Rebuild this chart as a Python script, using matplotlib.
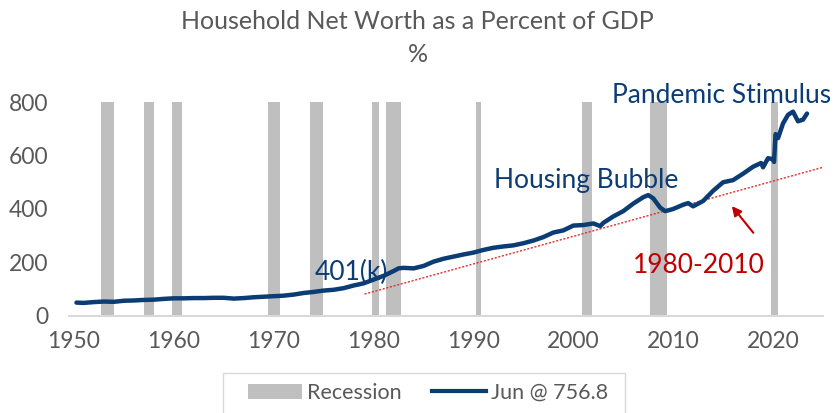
import matplotlib
matplotlib.use("Agg")
import matplotlib.pyplot as plt
from matplotlib.patches import Patch, Rectangle
from matplotlib.lines import Line2D

plt.rcParams['font.family'] = ['Lato', 'DejaVu Sans']

years = [1950.25, 1951, 1952, 1953, 1954, 1955, 1956, 1957, 1958, 1959, 1960, 1961, 1962, 1963,
         1964, 1965, 1966, 1967, 1968, 1969, 1970, 1971, 1972, 1973, 1974, 1975, 1976, 1977,
         1978, 1979, 1980, 1981, 1982, 1982.5, 1983, 1984, 1985, 1986, 1987, 1988, 1989, 1990,
         1991, 1992, 1993, 1994, 1995, 1996, 1997, 1998, 1999, 2000, 2001, 2002, 2002.7, 2003,
         2004, 2005, 2006, 2007, 2007.5, 2008, 2008.7, 2009.2, 2010, 2011, 2011.5, 2012, 2013,
         2014, 2015, 2016, 2017, 2018, 2018.8, 2019, 2019.5, 2020.0, 2020.1, 2020.25, 2020.5,
         2021, 2021.5, 2022, 2022.5, 2023, 2023.4]
values = [50, 49, 52, 54, 53, 57, 58, 60, 61, 64, 66, 66, 67, 67,
          68, 68, 65, 67, 70, 72, 74, 76, 80, 86, 90, 95, 98, 104,
          114, 122, 136, 150, 168, 178, 180, 178, 187, 203, 214, 222, 230, 237,
          247, 255, 260, 264, 272, 282, 295, 312, 320, 338, 340, 346, 336, 348,
          372, 392, 420, 444, 452, 440, 405, 392, 400, 416, 422, 410, 430,
          468, 500, 508, 532, 558, 572, 556, 590, 586, 576, 680, 665,
          720, 752, 764, 728, 734, 756.8]

rec_start = [1952.7, 1957.0, 1959.8, 1969.4, 1973.6, 1979.8, 1981.2, 1990.3, 2000.9, 2007.7, 2019.8]
rec_end = [1954.0, 1958.0, 1960.8, 1970.6, 1974.9, 1980.5, 1982.7, 1990.8, 2001.9, 2009.4, 2020.5]

trend_years = [1979.1, 2025.2]
trend_values = [82, 558]

arrow_tail = (2018.2, 303)
arrow_head = (2015.7, 419)

xticks = [1950, 1960, 1970, 1980, 1990, 2000, 2010, 2020]
yticks = [0, 200, 400, 600, 800]

navy = '#0b3c74'
red = '#c00000'
gray_txt = '#595959'
rec_col = '#bfbfbf'

fig = plt.figure(figsize=(8.35, 4.13), dpi=100)
ax = fig.add_axes([0.0826, 0.2349, 0.9856 - 0.0826, 0.753 - 0.2349])

for s, e in zip(rec_start, rec_end):
    ax.axvspan(s, e, ymin=0, ymax=1, color=rec_col, lw=0, zorder=1)

ax.plot(trend_years, trend_values, color='#e03030', lw=1.0, ls=(0, (1.5, 1.2)), zorder=2)
ax.plot(years, values, color=navy, lw=3.2, solid_capstyle='round', solid_joinstyle='round', zorder=3)

ax.set_xlim(1949.5, 2025.0)
ax.set_ylim(0, 800)
ax.set_xticks(xticks)
ax.set_yticks(yticks)
for sp in ['top', 'right', 'left']:
    ax.spines[sp].set_visible(False)
ax.spines['bottom'].set_color('#d9d9d9')
ax.spines['bottom'].set_linewidth(1.5)
ax.tick_params(axis='both', length=0, labelsize=16.5, colors=gray_txt)
ax.tick_params(axis='y', pad=15)
ax.tick_params(axis='x', pad=11)

fig.text(0.5, 0.947, 'Household Net Worth as a Percent of GDP', ha='center', va='center',
         fontsize=18, color=gray_txt)
fig.text(0.5, 0.867, '%', ha='center', va='center', fontsize=18, color=gray_txt)

ax.text(2014.8, 826, 'Pandemic Stimulus', ha='center', va='center', fontsize=19, color=navy, clip_on=False)
ax.text(2001.3, 505, 'Housing Bubble', ha='center', va='center', fontsize=19, color=navy)
ax.text(1977.8, 164, '401(k)', ha='center', va='center', fontsize=19, color=navy)
ax.text(2012.6, 187, '1980-2010', ha='center', va='center', fontsize=19, color=red)
ax.annotate('', xy=arrow_head, xytext=arrow_tail,
            arrowprops=dict(arrowstyle='-|>', color=red, lw=1.5, mutation_scale=14))

# legend box
fig.patches.append(Rectangle((0.267, -0.05), 0.4814, 0.1469, transform=fig.transFigure,
                             facecolor='white', edgecolor='#d9d9d9', lw=1.0, zorder=0))

handles = [Patch(facecolor=rec_col, edgecolor='none'),
           Line2D([0], [0], color=navy, lw=3)]
leg = fig.legend(handles, ['Recession', 'Jun @ 756.8'], loc='center',
                 bbox_to_anchor=(0.5126, 0.0484), ncol=2, frameon=False,
                 fontsize=15.5, handlelength=2.5, handletextpad=0.25, columnspacing=1.4,
                 borderpad=0, borderaxespad=0)
for t in leg.get_texts():
    t.set_color(gray_txt)

fig.savefig('out.png', dpi=100)
